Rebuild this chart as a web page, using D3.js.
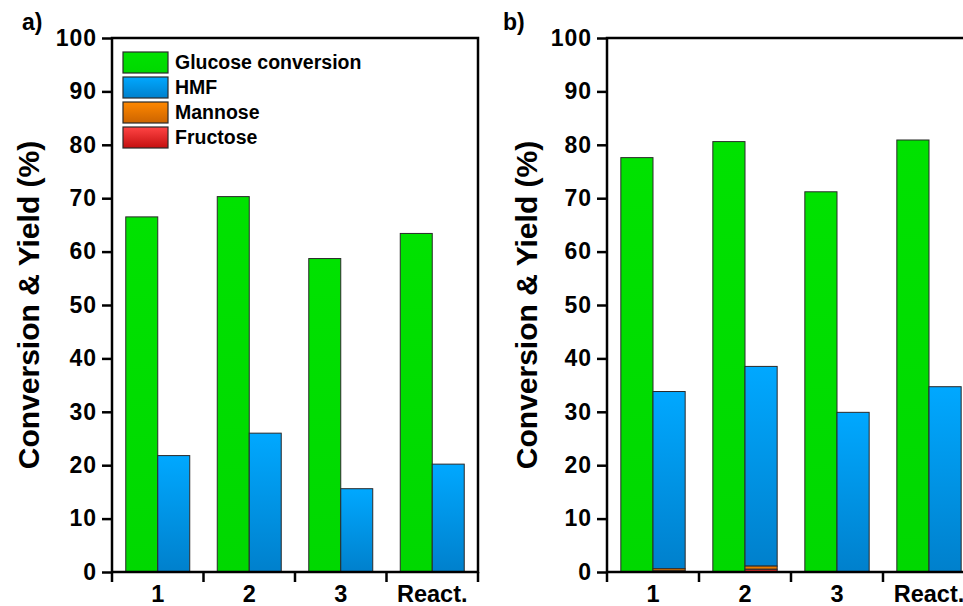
<!DOCTYPE html>
<html>
<head>
<meta charset="utf-8">
<script src="https://cdn.jsdelivr.net/npm/d3@7"></script>
<style>
  body { margin: 0; background: #fff; }
  svg text { font-family: "Liberation Sans", Arial, sans-serif; font-weight: bold; fill: #000; }
</style>
</head>
<body>
<div id="chart"></div>
<script>
(function () {
// categories and values
var categories = ["1", "2", "3", "React."];
var yTicks = [0, 10, 20, 30, 40, 50, 60, 70, 80, 90, 100];

var convA = [66.5, 70.3, 58.7, 63.4];
var hmfA = [21.8, 26.0, 15.6, 20.2];

var convB = [77.6, 80.6, 71.2, 80.9];
var fructoseB = [0.2, 0.5, 0, 0];
var mannoseB = [0.4, 0.6, 0, 0];
var hmfB = [33.2, 37.4, 29.9, 34.7];

var legendNames = ["Glucose conversion", "HMF", "Mannose", "Fructose"];

var width = 963, height = 606;
var svg = d3.select("#chart").append("svg").attr("width", width).attr("height", height);

// gradients for the shaded fills
var defs = svg.append("defs");
function grad(id, c1, c2) {
  var lg = defs.append("linearGradient").attr("id", id)
    .attr("x1", 0).attr("y1", 0).attr("x2", 0).attr("y2", 1);
  lg.append("stop").attr("offset", "0%").attr("stop-color", c1);
  lg.append("stop").attr("offset", "100%").attr("stop-color", c2);
}
grad("gGreen", "#00e200", "#00d800");
grad("gBlue", "#00a8ff", "#0080cc");
grad("gOrange", "#ff8800", "#cc6400");
grad("gRed", "#ff4444", "#c41010");

var fills = ["url(#gGreen)", "url(#gBlue)", "url(#gOrange)", "url(#gRed)"];

var plotTop = 38, plotBottom = 572;
var y = d3.scaleLinear().domain([0, 100]).range([plotBottom, plotTop]);

function panel(left, right, label, labelX, titleX, seriesFn) {
  var g = svg.append("g");
  var x = d3.scaleBand().domain(categories).range([left, right]).padding(0);
  var sub = d3.scaleBand().domain(["conv", "yield"]).range([0, x.bandwidth()])
    .paddingInner(0).paddingOuter(0.43);

  // bars
  var rows = seriesFn();
  rows.forEach(function (r) {
    g.append("rect")
      .attr("x", x(r.cat) + sub(r.slot))
      .attr("width", sub.bandwidth())
      .attr("y", y(r.y1))
      .attr("height", y(r.y0) - y(r.y1))
      .attr("fill", r.fill)
      .attr("stroke", "#2a2a2a")
      .attr("stroke-width", 1);
  });

  // frame
  g.append("rect").attr("x", left).attr("y", plotTop)
    .attr("width", right - left).attr("height", plotBottom - plotTop)
    .attr("fill", "none").attr("stroke", "#000").attr("stroke-width", 2.5);

  // y axis
  var yAxis = d3.axisLeft(y).tickValues(yTicks).tickSize(10).tickPadding(5);
  var ya = g.append("g").attr("transform", "translate(" + left + ",0)").call(yAxis);
  ya.select(".domain").remove();
  ya.selectAll("line").attr("stroke", "#000").attr("stroke-width", 2.5);
  ya.selectAll("text").style("font-size", "23px").style("letter-spacing", "1px")
    .style("font-family", "Liberation Sans, Arial, sans-serif").attr("fill", "#000");

  // x axis: ticks at band edges
  var edges = categories.map(function (c) { return x(c); }).concat([right]);
  g.selectAll(".xt").data(edges).enter().append("line")
    .attr("x1", function (d) { return d; }).attr("x2", function (d) { return d; })
    .attr("y1", plotBottom).attr("y2", plotBottom + 10)
    .attr("stroke", "#000").attr("stroke-width", 2.5);
  g.selectAll(".xl").data(categories).enter().append("text")
    .attr("x", function (d) { return x(d) + x.bandwidth() / 2; })
    .attr("y", 602)
    .attr("text-anchor", "middle")
    .style("font-size", "23.5px")
    .text(function (d) { return d; });

  // y title
  g.append("text")
    .attr("transform", "translate(" + titleX + "," + ((plotTop + plotBottom) / 2) + ") rotate(-90)")
    .attr("text-anchor", "middle")
    .style("font-size", "30px")
    .text("Conversion & Yield (%)");

  // panel letter
  g.append("text").attr("x", labelX).attr("y", 30).style("font-size", "23px").text(label);
}

panel(112, 478, "a)", 22, 39, function () {
  var out = [];
  categories.forEach(function (c, i) {
    out.push({ cat: c, slot: "conv", y0: 0, y1: convA[i], fill: fills[0] });
    out.push({ cat: c, slot: "yield", y0: 0, y1: hmfA[i], fill: fills[1] });
  });
  return out;
});

panel(607, 975, "b)", 503, 537, function () {
  var out = [];
  categories.forEach(function (c, i) {
    out.push({ cat: c, slot: "conv", y0: 0, y1: convB[i], fill: fills[0] });
    var a = fructoseB[i], b = a + mannoseB[i], t = b + hmfB[i];
    out.push({ cat: c, slot: "yield", y0: b, y1: t, fill: fills[1] });
    if (mannoseB[i] > 0) out.push({ cat: c, slot: "yield", y0: a, y1: b, fill: fills[2] });
    if (fructoseB[i] > 0) out.push({ cat: c, slot: "yield", y0: 0, y1: a, fill: fills[3] });
  });
  return out;
});

// legend in panel a
var lg = svg.append("g");
legendNames.forEach(function (n, i) {
  var yy = 52 + i * 25;
  lg.append("rect").attr("x", 123).attr("y", yy).attr("width", 45).attr("height", 21)
    .attr("fill", fills[i]).attr("stroke", "#2a2a2a").attr("stroke-width", 1.2);
  lg.append("text").attr("x", 175).attr("y", yy + 17).style("font-size", "19.5px").text(n);
});
})();
</script>
</body>
</html>
